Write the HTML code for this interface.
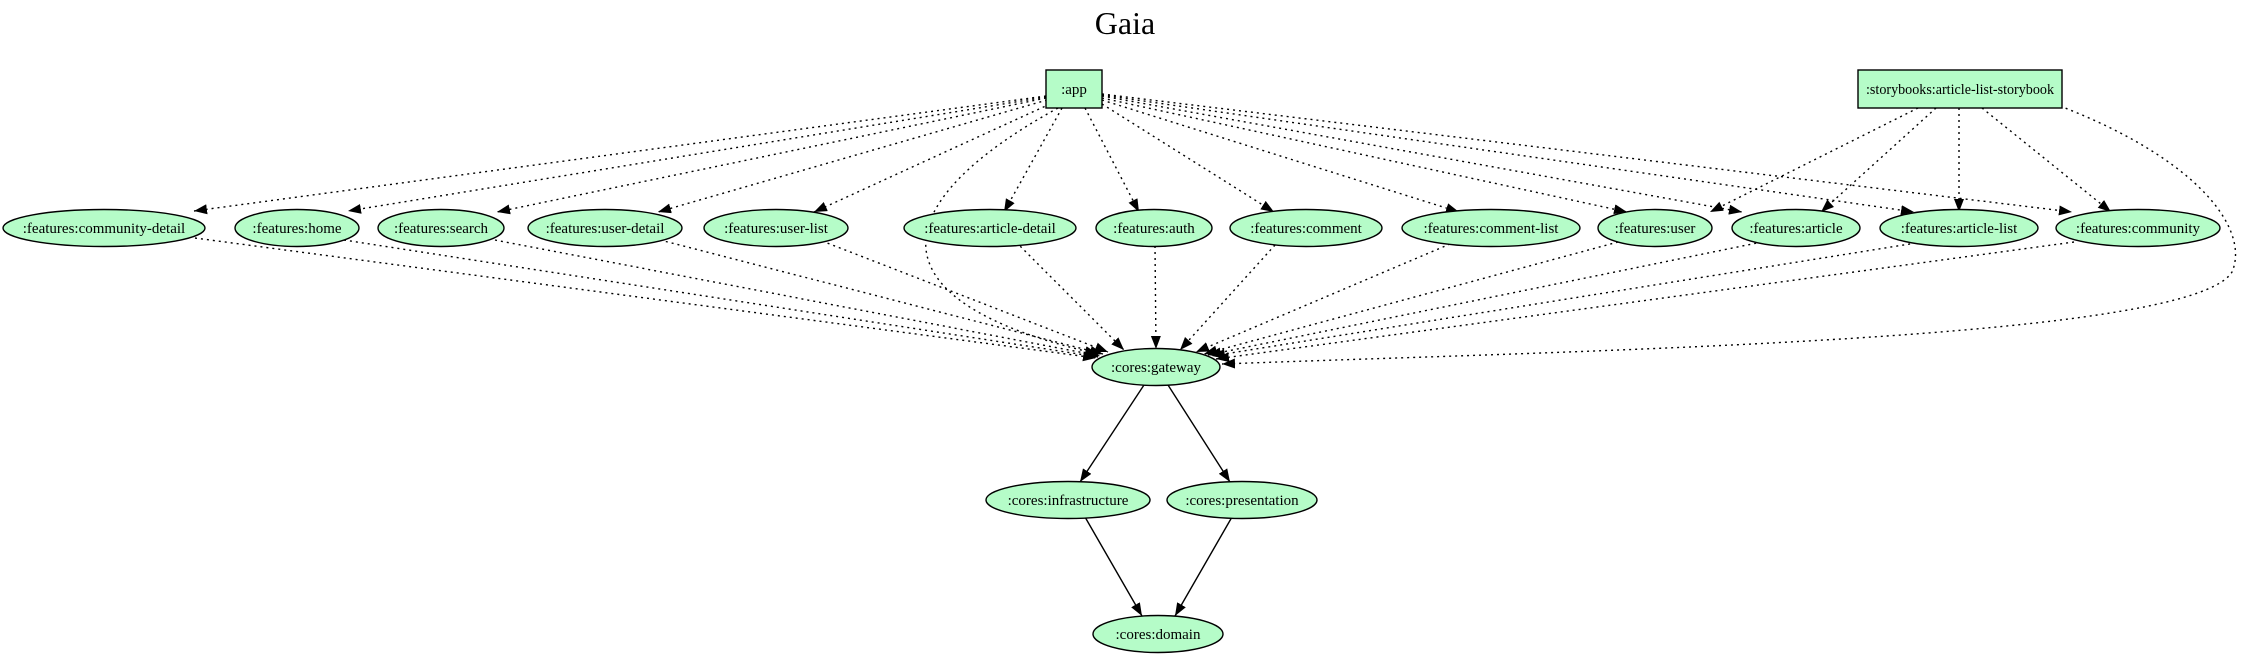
<!DOCTYPE html>
<html><head><meta charset="utf-8"><style>
html,body{margin:0;padding:0;background:#fff;width:2250px;height:660px;overflow:hidden}
svg{display:block}
text{font-family:"Liberation Serif",serif;fill:#000}
</style></head><body>
<svg width="2250" height="660" viewBox="0 0 2250 660" xmlns="http://www.w3.org/2000/svg">
<defs>
<marker id="a" markerUnits="userSpaceOnUse" markerWidth="14" markerHeight="12" refX="13" refY="5" orient="auto">
<path d="M0,0 L13,5 L0,10 Z" fill="#000"/></marker>
</defs>
<text x="1125" y="34" font-size="32" text-anchor="middle">Gaia</text>

<g fill="none" stroke="#000" stroke-width="1.4" stroke-dasharray="2,4" marker-end="url(#a)">
<path d="M1046,96 L194,211"/>
<path d="M1046,97 L348,211"/>
<path d="M1046,98 L497,212"/>
<path d="M1047,100 L658,212"/>
<path d="M1050,104 L814,212"/>
<path d="M1062,108 L1004,212"/>
<path d="M1085,108 L1139,212"/>
<path d="M1102,104 L1274,212"/>
<path d="M1102,100 L1459,212"/>
<path d="M1102,98 L1627,212"/>
<path d="M1102,96 L1742,212"/>
<path d="M1102,95 L1914,212"/>
<path d="M1102,94 L2072,212"/>
<path d="M1058,108 C890,200 860,300 1098,354"/>
<path d="M1918,108 L1710,212"/>
<path d="M1936,108 L1821,212"/>
<path d="M1959,108 L1959,212"/>
<path d="M1982,108 L2111,212"/>
<path d="M2060,106 C2200,160 2250,230 2232,272 C2190,340 1600,350 1222,364"/>
<path d="M195,238 L1096,358"/>
<path d="M344,240 L1098,357"/>
<path d="M495,240 L1100,356"/>
<path d="M660,240 L1103,354"/>
<path d="M822,241 L1108,352"/>
<path d="M1016,242 L1124,350"/>
<path d="M1155,246 L1156,349"/>
<path d="M1275,245 L1180,350"/>
<path d="M1450,244 L1196,352"/>
<path d="M1618,242 L1204,354"/>
<path d="M1762,242 L1208,355"/>
<path d="M1916,243 L1212,356"/>
<path d="M2074,242 L1216,359"/>
</g>
<g fill="none" stroke="#000" stroke-width="1.4" marker-end="url(#a)">
<path d="M1144,385 L1080,482"/>
<path d="M1168,385 L1230,482"/>
<path d="M1085,517 L1142,616"/>
<path d="M1232,517 L1175,616"/>
</g>

<g fill="#b5fcc8" stroke="#000" stroke-width="1.4">
<rect x="1046" y="70" width="56" height="38"/>
<rect x="1858" y="70" width="204" height="38"/>
<ellipse cx="104" cy="228" rx="101" ry="18.5"/>
<ellipse cx="297" cy="228" rx="62" ry="18.5"/>
<ellipse cx="441" cy="228" rx="63" ry="18.5"/>
<ellipse cx="605" cy="228" rx="77" ry="18.5"/>
<ellipse cx="776" cy="228" rx="72" ry="18.5"/>
<ellipse cx="990" cy="228" rx="86" ry="18.5"/>
<ellipse cx="1154" cy="228" rx="58" ry="18.5"/>
<ellipse cx="1306" cy="228" rx="76" ry="18.5"/>
<ellipse cx="1491" cy="228" rx="89" ry="18.5"/>
<ellipse cx="1655" cy="228" rx="57" ry="18.5"/>
<ellipse cx="1796" cy="228" rx="64" ry="18.5"/>
<ellipse cx="1959" cy="228" rx="79" ry="18.5"/>
<ellipse cx="2138" cy="228" rx="82" ry="18.5"/>
<ellipse cx="1156" cy="367" rx="64" ry="18.5"/>
<ellipse cx="1068" cy="500" rx="82" ry="18.5"/>
<ellipse cx="1242" cy="500" rx="75" ry="18.5"/>
<ellipse cx="1158" cy="634" rx="65" ry="18.5"/>
</g>
<g font-size="15" text-anchor="middle">
<text x="1074" y="94">:app</text>
<text x="1960" y="94" textLength="188" lengthAdjust="spacingAndGlyphs">:storybooks:article-list-storybook</text>
<text x="104" y="233">:features:community-detail</text>
<text x="297" y="233">:features:home</text>
<text x="441" y="233">:features:search</text>
<text x="605" y="233">:features:user-detail</text>
<text x="776" y="233">:features:user-list</text>
<text x="990" y="233">:features:article-detail</text>
<text x="1154" y="233">:features:auth</text>
<text x="1306" y="233">:features:comment</text>
<text x="1491" y="233">:features:comment-list</text>
<text x="1655" y="233">:features:user</text>
<text x="1796" y="233">:features:article</text>
<text x="1959" y="233">:features:article-list</text>
<text x="2138" y="233">:features:community</text>
<text x="1156" y="372">:cores:gateway</text>
<text x="1068" y="505">:cores:infrastructure</text>
<text x="1242" y="505">:cores:presentation</text>
<text x="1158" y="639">:cores:domain</text>
</g>
</svg>
</body></html>
